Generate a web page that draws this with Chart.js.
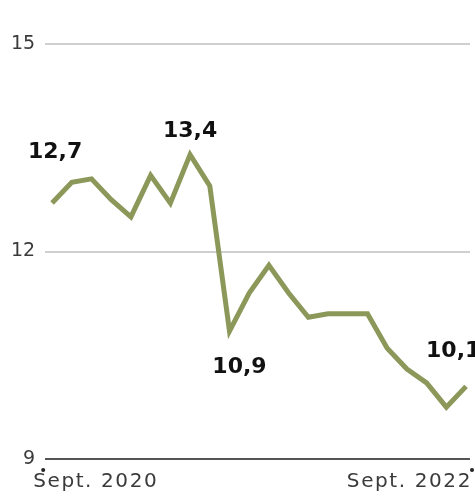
<!DOCTYPE html>
<html lang="fr">
  <head>
    <meta charset="UTF-8" />
    <title>Courbe sept. 2020 - sept. 2022</title>
    <style>
      body {
        margin: 0;
        padding: 0;
        background: #fff;
      }
      #wrap {
        width: 475px;
        height: 503px;
        position: relative;
      }
    </style>
  </head>
  <body>
    <div id="wrap"><canvas id="chart"></canvas></div>
    <script src="https://cdn.jsdelivr.net/npm/chart.js"></script>
    <script>
      // values, one per step from Sept. 2020 to Sept. 2022
      const values = [
        12.7, 13.0, 13.05, 12.75, 12.5, 13.1, 12.7, 13.4, 12.95, 10.85, 11.4,
        11.8, 11.4, 11.05, 11.1, 11.1, 11.1, 10.6, 10.3, 10.1, 9.75, 10.05,
      ];
      const xTickLabels = ["Sept. 2020", "Sept. 2022"];
      const yTicks = [9, 12, 15];
      // highlighted points: index in values + text shown
      const calloutIndex = [0, 7, 9, 21];
      const calloutText = ["12,7", "13,4", "10,9", "10,1"];

      const lineColor = "#8b985a";

      const points = values.map((v, i) => ({ x: i, y: v }));

      const extras = {
        id: "extras",
        afterDraw(chart) {
          const ctx = chart.ctx;
          const xs = chart.scales.x;
          const ys = chart.scales.y;
          const area = chart.chartArea;
          ctx.save();

          // little dots under the axis ends
          ctx.fillStyle = "#222";
          [area.left - 2, area.right + 2].forEach((x) => {
            ctx.beginPath();
            ctx.arc(x, area.bottom + 11, 2, 0, Math.PI * 2);
            ctx.fill();
          });

          // date labels
          ctx.font = "20px 'DejaVu Sans'";
          ctx.letterSpacing = "1.6px";
          ctx.fillStyle = "#3a3a3a";
          ctx.textBaseline = "alphabetic";
          ctx.textAlign = "left";
          ctx.fillText(xTickLabels[0], area.left - 12, area.bottom + 28);
          ctx.textAlign = "right";
          ctx.fillText(xTickLabels[1], area.right + 2, area.bottom + 28);

          // callouts
          ctx.letterSpacing = "0px";
          ctx.font = "bold 22px 'DejaVu Sans'";
          ctx.fillStyle = "#111";
          ctx.textBaseline = "alphabetic";
          const offs = [
            [3, -45, "center"],
            [0, -18, "center"],
            [10, 42, "center"],
            [-40, -29, "left"],
          ];
          calloutIndex.forEach((idx, k) => {
            const px = xs.getPixelForValue(idx);
            const py = ys.getPixelForValue(values[idx]);
            ctx.textAlign = offs[k][2];
            ctx.fillText(calloutText[k], px + offs[k][0], py + offs[k][1]);
          });
          ctx.restore();
        },
      };

      new Chart(document.getElementById("chart"), {
        type: "line",
        data: {
          datasets: [
            {
              data: points,
              borderColor: lineColor,
              borderWidth: 5,
              borderJoinStyle: "miter",
              pointRadius: 0,
              tension: 0,
              fill: false,
            },
          ],
        },
        options: {
          responsive: true,
          maintainAspectRatio: false,
          animation: false,
          layout: { padding: { left: 1, right: 5, top: 44, bottom: 44 } },
          plugins: {
            legend: { display: false },
            tooltip: { enabled: false },
          },
          scales: {
            x: {
              type: "linear",
              display: false,
              min: -0.35,
              max: 21.2,
            },
            y: {
              min: 9,
              max: 15,
              afterBuildTicks: (scale) => {
                scale.ticks = yTicks.map((v) => ({ value: v }));
              },
              border: { display: false },
              grid: {
                drawTicks: false,
                lineWidth: 2,
                color: (c) => (c.tick && c.tick.value === 9 ? "#555" : "#cfcfcf"),
              },
              ticks: {
                padding: 10,
                color: "#3a3a3a",
                font: { family: "DejaVu Sans", size: 19 },
              },
            },
          },
        },
        plugins: [extras],
      });
    </script>
  </body>
</html>
